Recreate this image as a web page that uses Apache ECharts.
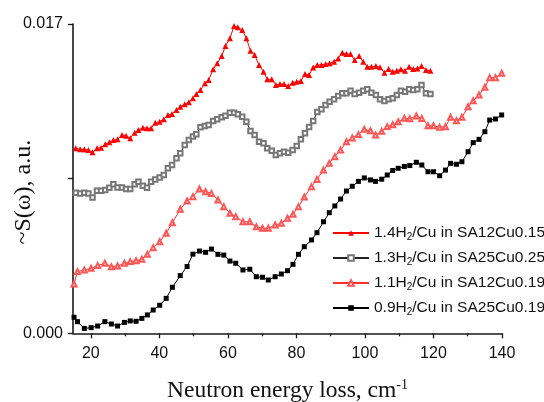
<!DOCTYPE html>
<html>
<head>
<meta charset="utf-8">
<script src="https://cdn.jsdelivr.net/npm/echarts@6/dist/echarts.min.js"></script>
<style>html,body{margin:0;padding:0;background:#fff}#c{width:544px;height:402px}</style>
</head>
<body>
<div id="c"></div>
<script>
// Energy loss grid (cm-1) for the two lower series
const energy = [15.1,16.1,18.1,20.1,22.0,24.1,26.0,27.8,29.8,31.5,33.2,34.9,36.5,38.2,40.1,42.0,43.8,46.1,48.1,49.8,51.7,53.5,55.2,57.1,58.8,60.6,62.3,64.4,66.4,68.3,70.1,71.8,73.8,75.6,77.4,79.0,80.6,82.3,84.4,86.0,87.9,89.6,91.2,92.9,94.6,96.3,98.1,99.8,101.6,103.1,104.9,106.5,108.1,109.7,111.5,113.1,115.0,116.6,118.4,120.0,121.8,123.5,125.0,126.7,128.3,130.1,131.6,133.3,135.0,136.4,138.1,139.9];
// Energy loss grid (cm-1) for the two upper series
const energyDense = [15.6,16.9,18.1,19.3,20.5,21.8,23.0,24.2,25.4,26.6,27.8,29.1,30.3,31.5,32.8,33.9,35.2,36.4,37.6,38.8,40.1,41.3,42.5,43.7,45.0,46.1,47.4,48.6,49.8,50.8,52.0,53.3,54.4,55.7,56.9,58.2,59.3,60.6,61.8,62.9,64.2,65.4,66.6,67.8,69.1,70.4,71.5,72.8,74.0,75.2,76.4,77.6,78.9,80.1,81.3,82.5,83.7,84.9,86.1,87.3,88.5,89.7,91.0,92.2,93.4,94.6,95.8,97.0,98.3,99.5,100.7,101.9,103.2,104.4,105.7,106.9,108.1,109.3,110.5,111.7,112.9,114.1,115.3,116.5,117.8,119.1];

// S(omega) values in units of 0.001 a.u.
const s14 = [10.17,10.11,10.11,10.07,9.95,10.17,10.20,10.39,10.50,10.62,10.66,10.90,10.86,10.72,11.02,11.17,11.30,11.27,11.27,11.57,11.63,11.76,12.00,12.05,12.27,12.45,12.59,12.70,12.92,13.15,13.37,13.74,13.92,14.51,14.84,15.24,15.79,16.21,16.89,16.82,16.67,16.21,15.53,15.30,14.75,14.38,13.96,13.96,13.65,13.70,13.70,13.59,13.77,13.83,13.87,14.25,14.20,14.61,14.75,14.75,14.80,14.84,14.93,15.11,15.42,15.35,15.35,15.02,15.24,14.93,14.65,14.65,14.69,14.62,14.32,14.53,14.38,14.43,14.51,14.43,14.65,14.53,14.56,14.69,14.47,14.43];
const s13 = [7.73,7.69,7.73,7.69,7.47,7.84,7.84,7.88,8.00,8.19,8.02,8.02,7.93,7.93,8.19,8.33,8.11,8.00,8.33,8.46,8.57,8.70,9.07,9.25,9.62,9.89,10.35,10.62,10.81,10.94,11.32,11.39,11.45,11.67,11.76,11.87,11.96,12.12,12.12,12.04,11.90,11.63,11.12,10.90,10.53,10.44,10.17,10.04,9.80,9.89,9.98,9.93,10.07,10.29,10.66,10.99,11.34,11.67,12.16,12.31,12.55,12.73,12.86,13.04,13.19,13.19,13.33,13.15,13.22,13.33,13.41,13.22,13.10,12.86,12.77,12.86,12.92,13.10,13.33,13.28,13.41,13.37,13.41,13.65,13.19,13.15];
const s11 = [2.71,3.39,3.48,3.57,3.72,3.85,3.66,3.70,3.85,3.94,3.99,4.07,4.34,4.70,5.03,5.50,6.08,6.82,7.27,7.51,7.93,7.78,7.69,7.33,6.96,6.60,6.41,6.13,6.13,5.86,5.77,5.77,5.95,6.05,6.32,6.54,6.96,7.49,8.06,8.46,8.97,9.34,9.71,10.07,10.53,10.74,10.92,11.21,11.13,10.90,11.10,11.36,11.46,11.63,11.82,11.79,11.94,11.81,11.41,11.41,11.32,11.35,11.87,11.68,11.87,12.45,12.78,13.10,13.52,14.05,14.05,14.29];
const s09 = [0.88,0.64,0.27,0.31,0.40,0.64,0.51,0.40,0.60,0.68,0.66,0.82,1.01,1.28,1.54,1.92,2.53,3.17,3.67,4.35,4.52,4.45,4.63,4.34,4.30,3.97,3.85,3.48,3.52,3.11,3.08,2.93,3.11,3.26,3.44,3.79,4.34,4.76,5.13,5.53,6.13,6.63,7.00,7.38,7.82,8.08,8.35,8.54,8.43,8.35,8.47,8.70,8.95,9.07,9.17,9.22,9.40,9.25,8.88,8.88,8.66,8.97,9.34,9.29,9.43,9.98,10.48,10.66,11.08,11.72,11.78,12.00];

const seriesNames = ['1.4H2/Cu in SA12Cu0.15','1.3H2/Cu in SA25Cu0.25','1.1H2/Cu in SA12Cu0.19','0.9H2/Cu in SA25Cu0.19'];
const xMajorTicks = [20,40,60,80,100,120,140];
const xMinorTicks = [30,50,70,90,110,130];
const yTicks = [0, 8.5, 17];
const yTickLabels = ['0.000','','0.017'];

const pair = (xs, ys) => xs.map((x, i) => [x, ys[i]]);

const chart = echarts.init(document.getElementById('c'), null, {renderer: 'canvas'});
const axisColor = '#1a1a1a';
chart.setOption({
  animation: false,
  backgroundColor: '#fff',
  grid: {left: 73, right: 42, top: 24, bottom: 68.7, containLabel: false, outerBoundsMode: 'none'},
  legend: {
    orient: 'vertical', left: 332, top: 225, padding: 0,
    itemWidth: 36, itemHeight: 7, itemGap: 7.5,
    data: seriesNames,
    formatter: n => n.replace('H2', 'H{sub|2}'),
    textStyle: {fontFamily: 'Liberation Sans', fontSize: 15.5, color: '#111',
      rich: {sub: {fontFamily: 'Liberation Sans', fontSize: 10, color: '#111', padding: [9, 0, 0, 0]}}}
  },
  xAxis: [{
    type: 'value', min: 14.8, max: 140,
    axisLine: {show: true, onZero: false, lineStyle: {color: axisColor, width: 1.6}},
    axisTick: {show: true, inside: false, length: 5, customValues: xMajorTicks, lineStyle: {color: axisColor, width: 1.3}},
    axisLabel: {customValues: xMajorTicks, margin: 12, fontFamily: 'Liberation Sans', fontSize: 16, color: '#111'},
    splitLine: {show: false},
    name: 'Neutron energy loss, cm{sup|-1}', nameLocation: 'middle', nameGap: 45, nameMoveOverlap: false,
    nameTextStyle: {fontFamily: 'Liberation Serif', fontSize: 23.5, color: '#111',
      rich: {sup: {fontFamily: 'Liberation Serif', fontSize: 14, color: '#111', padding: [0, 0, 12, 0]}}}
  }, {
    type: 'value', min: 14.8, max: 140, position: 'bottom',
    axisLine: {show: false},
    axisTick: {show: true, length: 3, customValues: xMinorTicks, lineStyle: {color: axisColor, width: 1.3}},
    axisLabel: {show: false}, splitLine: {show: false}
  }],
  yAxis: {
    type: 'value', min: 0, max: 17, interval: 8.5,
    axisLine: {show: true, onZero: false, lineStyle: {color: axisColor, width: 1.6}},
    axisTick: {show: true, length: 5, lineStyle: {color: axisColor, width: 1.3}},
    axisLabel: {margin: 10, fontFamily: 'Liberation Sans', fontSize: 16, color: '#111',
      formatter: v => yTickLabels[yTicks.indexOf(v)] || ''},
    splitLine: {show: false},
    name: '~S(\u03c9), a.u.', nameLocation: 'middle', nameRotate: 90, nameGap: 37, nameMoveOverlap: false,
    nameTextStyle: {fontFamily: 'Liberation Serif', fontSize: 24, color: '#111', padding: [0, 27, 0, 0]}
  },
  series: [
    {name: seriesNames[0], type: 'line', data: pair(energyDense, s14), symbol: 'triangle', symbolSize: 6,
      itemStyle: {color: '#ff0000'}, lineStyle: {color: '#ff0000', width: 1}},
    {name: seriesNames[1], type: 'line', data: pair(energyDense, s13), symbol: 'emptyRect', symbolSize: 4.5,
      itemStyle: {color: '#777'}, lineStyle: {color: '#222', width: 1}},
    {name: seriesNames[2], type: 'line', data: pair(energy, s11), symbol: 'emptyTriangle', symbolSize: 5,
      itemStyle: {color: '#ff5555'}, lineStyle: {color: '#ff3030', width: 1}},
    {name: seriesNames[3], type: 'line', data: pair(energy, s09), symbol: 'rect', symbolSize: 5,
      itemStyle: {color: '#000'}, lineStyle: {color: '#000', width: 1}}
  ]
});
</script>
</body>
</html>
